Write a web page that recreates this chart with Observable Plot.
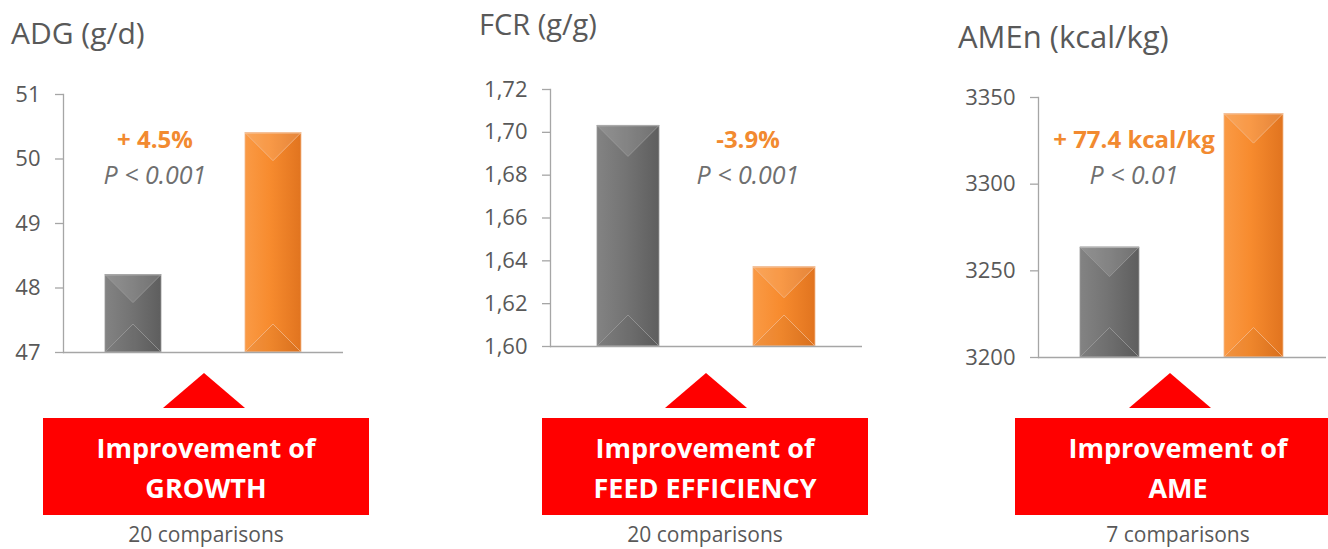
<!DOCTYPE html>
<html>
<head>
<meta charset="utf-8">
<script src="https://cdn.jsdelivr.net/npm/d3@7"></script>
<script src="https://cdn.jsdelivr.net/npm/@observablehq/plot@0.6"></script>
<style>
  html, body { margin: 0; padding: 0; background: #ffffff; }
  #root { position: relative; width: 1328px; height: 549px; overflow: hidden; font-family: "Open Sans", sans-serif; }
  .panel { position: absolute; top: 0; }
  #overlay { position: absolute; left: 0; top: 0; }
</style>
</head>
<body>
<div id="root"></div>
<script>
// ---- data ----
const groups = ["Control", "Treatment"];
const adgValues = [48.2, 50.4];
const fcrValues = [1.703, 1.637];
const amenValues = [3263.4, 3340.4];
const adgTicks = [47, 48, 49, 50, 51];
const fcrTicks = [1.60, 1.62, 1.64, 1.66, 1.68, 1.70, 1.72];
const amenTicks = [3200, 3250, 3300, 3350];
const adgDomain = [47, 51];
const fcrDomain = [1.60, 1.72];
const amenDomain = [3200, 3350];
const titles = ["ADG (g/d)", "FCR (g/g)", "AMEn (kcal/kg)"];
const effectLabels = ["+ 4.5%", "-3.9%", "+ 77.4 kcal/kg"];
const pLabels = ["P < 0.001", "P < 0.001", "P < 0.01"];
const boxLine1 = ["Improvement of", "Improvement of", "Improvement of"];
const boxLine2 = ["GROWTH", "FEED EFFICIENCY", "AME"];
const comparisons = ["20 comparisons", "20 comparisons", "7 comparisons"];

// ---- layout ----
const panels = [
  {id: "adg", values: adgValues, ticks: adgTicks, domain: adgDomain, fmt: d => String(d),
   left: 0, width: 353, height: 360, ml: 63, mr: 10, mt: 94, mb: 8, pi: 0.6,
   title: {x: 11, y: 44, size: 30}, label: {x: 155, y1: 148, y2: 184},
   box: {x: 43, w: 326}, tri: {cx: 204, half: 41}, cmpX: 206},
  {id: "fcr", values: fcrValues, ticks: fcrTicks, domain: fcrDomain, fmt: d => d.toFixed(2).replace(".", ","),
   left: 470, width: 402, height: 354, ml: 80, mr: 10, mt: 89, mb: 8, pi: 0.6,
   title: {x: 479, y: 35, size: 29}, label: {x: 748, y1: 148, y2: 184},
   box: {x: 542, w: 326}, tri: {cx: 706, half: 41}, cmpX: 705},
  {id: "amen", values: amenValues, ticks: amenTicks, domain: amenDomain, fmt: d => String(d),
   left: 950, width: 378, height: 365, ml: 88, mr: 2, mt: 97, mb: 8, pi: 0.59,
   title: {x: 958, y: 48, size: 31}, label: {x: 1134, y1: 148, y2: 184},
   box: {x: 1015, w: 326}, tri: {cx: 1170, half: 41}, cmpX: 1178}
];

const NS = "http://www.w3.org/2000/svg";

function makeDefs(id) {
  return () => {
    const defs = document.createElementNS(NS, "defs");
    const specs = [
      {gid: `gray-${id}`, stops: [[0, "#838383"], [0.45, "#747474"], [1, "#5e5e5e"]]},
      {gid: `orange-${id}`, stops: [[0, "#fa9a45"], [0.45, "#f78b2e"], [1, "#e1741f"]]}
    ];
    for (const s of specs) {
      const lg = document.createElementNS(NS, "linearGradient");
      lg.setAttribute("id", s.gid);
      lg.setAttribute("x1", "0"); lg.setAttribute("x2", "1");
      lg.setAttribute("y1", "0"); lg.setAttribute("y2", "0");
      for (const [o, c] of s.stops) {
        const st = document.createElementNS(NS, "stop");
        st.setAttribute("offset", o);
        st.setAttribute("stop-color", c);
        lg.appendChild(st);
      }
      defs.appendChild(lg);
    }
    return defs;
  };
}

function bevel(index, scales, values, dimensions, context, next) {
  const g = next(index, scales, values, dimensions, context);
  for (const r of Array.from(g.querySelectorAll("rect"))) {
    const x = +r.getAttribute("x"), y = +r.getAttribute("y");
    const w = +r.getAttribute("width"), h = +r.getAttribute("height");
    const d = Math.min(w / 2, h / 2);
    const parent = r.parentNode;
    const top = document.createElementNS(NS, "polygon");
    top.setAttribute("points", `${x},${y} ${x + w},${y} ${x + w / 2},${y + d}`);
    top.setAttribute("fill", "#ffffff");
    top.setAttribute("fill-opacity", 0.12);
    parent.appendChild(top);
    const bot = document.createElementNS(NS, "polygon");
    bot.setAttribute("points", `${x},${y + h} ${x + w},${y + h} ${x + w / 2},${y + h - d}`);
    bot.setAttribute("fill", "#000000");
    bot.setAttribute("fill-opacity", 0.035);
    parent.appendChild(bot);
    const edge = document.createElementNS(NS, "line");
    edge.setAttribute("x1", x); edge.setAttribute("x2", x + w);
    edge.setAttribute("y1", y + 0.5); edge.setAttribute("y2", y + 0.5);
    edge.setAttribute("stroke", "#ffffff");
    edge.setAttribute("stroke-opacity", 0.3);
    parent.appendChild(edge);
  }
  return g;
}

const root = document.getElementById("root");

for (const p of panels) {
  const data = groups.map((g, i) => ({group: g, value: p.values[i]}));
  const chart = Plot.plot({
    width: p.width, height: p.height,
    marginLeft: p.ml, marginRight: p.mr, marginTop: p.mt, marginBottom: p.mb,
    style: {background: "transparent", overflow: "visible", fontFamily: "'Open Sans', sans-serif"},
    x: {domain: groups, paddingInner: p.pi, paddingOuter: p.pi / 2, axis: null},
    y: {domain: p.domain, nice: false},
    marks: [
      makeDefs(p.id),
      Plot.frame({anchor: "left", stroke: "#a6a6a6", strokeWidth: 1.3}),
      Plot.axisY({ticks: p.ticks, tickFormat: p.fmt, tickSize: 8, tickPadding: 15,
                  stroke: "#a6a6a6", strokeWidth: 1.3, fill: "#595959", fontSize: 22, label: null}),
      Plot.barY(data.filter(d => d.group === groups[0]), {
        x: "group", y1: p.domain[0], y2: "value",
        fill: `url(#gray-${p.id})`, stroke: "#9a9a9a", strokeWidth: 0.8, render: bevel}),
      Plot.barY(data.filter(d => d.group === groups[1]), {
        x: "group", y1: p.domain[0], y2: "value",
        fill: `url(#orange-${p.id})`, stroke: "#f2b98c", strokeWidth: 0.8, render: bevel}),
      Plot.ruleY([p.domain[0]], {stroke: "#a6a6a6", strokeWidth: 1.6})
    ]
  });
  const div = document.createElement("div");
  div.className = "panel";
  div.style.left = p.left + "px";
  div.style.width = p.width + "px";
  div.appendChild(chart);
  root.appendChild(div);
}

// ---- overlay annotations ----
const ov = d3.select(root).append("svg")
  .attr("id", "overlay")
  .attr("width", 1328).attr("height", 549)
  .style("font-family", "'Open Sans', sans-serif");

panels.forEach((p, i) => {
  ov.append("text")
    .attr("x", p.title.x).attr("y", p.title.y)
    .attr("font-size", p.title.size).attr("fill", "#595959")
    .text(titles[i]);
  ov.append("text")
    .attr("x", p.label.x).attr("y", p.label.y1)
    .attr("text-anchor", "middle").attr("font-size", 24).attr("font-weight", 700)
    .attr("fill", "#f28a30")
    .text(effectLabels[i]);
  ov.append("text")
    .attr("x", p.label.x).attr("y", p.label.y2)
    .attr("text-anchor", "middle").attr("font-size", 25).attr("font-style", "italic")
    .attr("fill", "#6f6f6f")
    .text(pLabels[i]);
  const t = p.tri;
  ov.append("polygon")
    .attr("points", `${t.cx},373 ${t.cx + t.half},408 ${t.cx - t.half},408`)
    .attr("fill", "#ff0000");
  ov.append("rect")
    .attr("x", p.box.x).attr("y", 418).attr("width", p.box.w).attr("height", 97)
    .attr("fill", "#ff0000");
  const cx = p.box.x + p.box.w / 2;
  ov.append("text")
    .attr("x", cx).attr("y", 458).attr("text-anchor", "middle")
    .attr("font-size", 27).attr("font-weight", 700).attr("fill", "#ffffff")
    .text(boxLine1[i]);
  ov.append("text")
    .attr("x", cx).attr("y", 498).attr("text-anchor", "middle")
    .attr("font-size", 27).attr("font-weight", 700).attr("fill", "#ffffff")
    .text(boxLine2[i]);
  ov.append("text")
    .attr("x", p.cmpX).attr("y", 542).attr("text-anchor", "middle")
    .attr("font-size", 21).attr("fill", "#595959")
    .text(comparisons[i]);
});
</script>
</body>
</html>
